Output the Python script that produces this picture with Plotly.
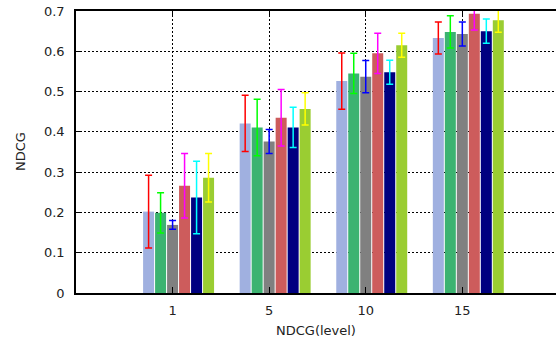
import plotly.graph_objects as go

levels = ['1', '5', '10', '15']
level_pos = [0, 1, 2, 3]

s1 = [0.202, 0.421, 0.526, 0.633]
e1 = [0.090, 0.070, 0.070, 0.040]
s2 = [0.199, 0.411, 0.545, 0.648]
e2 = [0.050, 0.070, 0.050, 0.040]
s3 = [0.169, 0.376, 0.537, 0.643]
e3 = [0.011, 0.030, 0.040, 0.030]
s4 = [0.266, 0.435, 0.595, 0.693]
e4 = [0.080, 0.070, 0.050, 0.040]
s5 = [0.237, 0.411, 0.548, 0.650]
e5 = [0.090, 0.050, 0.030, 0.030]
s6 = [0.286, 0.457, 0.615, 0.677]
e6 = [0.060, 0.040, 0.030, 0.030]

values = [s1, s2, s3, s4, s5, s6]
errors = [e1, e2, e3, e4, e5, e6]
bar_colors = ['#a0b0e0', '#3cb371', '#808080', '#cd5c5c', '#000080', '#9acd32']
err_colors = ['#ff0000', '#00ff00', '#0000ff', '#ff00ff', '#00ffff', '#ffff00']

pitch = 0.1242
bw = 0.1139

fig = go.Figure()
for i in range(6):
    fig.add_trace(go.Bar(
        x=level_pos, y=values[i],
        width=bw, offset=(i - 2) * pitch - bw / 2,
        marker=dict(color=bar_colors[i], line=dict(width=0)),
        error_y=dict(type='data', array=errors[i], visible=True,
                     color=err_colors[i], thickness=1.5, width=3.5),
        showlegend=False,
    ))

font = dict(family='DejaVu Sans', size=13, color='#222')
fig.update_layout(
    width=556, height=342,
    margin=dict(l=76, r=0, t=11, b=49, autoexpand=False),
    paper_bgcolor='white', plot_bgcolor='white',
    barmode='overlay',
    font=font,
    xaxis=dict(
        range=[-1, 3.97], tickvals=level_pos, ticktext=levels,
        showline=True, linecolor='black', linewidth=1.5, mirror='ticks',
        ticks='inside', ticklen=6, tickcolor='black',
        showgrid=True, gridcolor='black', gridwidth=1, griddash='2px,2px',
        zeroline=False, ticklabelstandoff=5, automargin=False,
    ),
    yaxis=dict(
        range=[0, 0.7], tickvals=[0, 0.1, 0.2, 0.3, 0.4, 0.5, 0.6, 0.7],
        ticktext=['0', '0.1', '0.2', '0.3', '0.4', '0.5', '0.6', '0.7'],
        showline=True, linecolor='black', linewidth=1.5,
        ticks='inside', ticklen=5, tickcolor='black',
        showgrid=True, gridcolor='black', gridwidth=1, griddash='2px,2px',
        zeroline=False, ticklabelstandoff=7, automargin=False,
    ),
    annotations=[
        dict(text='NDCG(level)', x=0.5, y=0, xref='paper', yref='paper',
             xanchor='center', yanchor='middle', yshift=-37, showarrow=False,
             font=font),
        dict(text='NDCG', x=0, y=0.5, xref='paper', yref='paper',
             xanchor='center', yanchor='middle', xshift=-56, textangle=-90,
             showarrow=False, font=font),
    ],
)

fig.write_html('out.html',
               config={'displayModeBar': False},
               post_script="document.body.style.margin='0';document.body.style.overflow='hidden';")
